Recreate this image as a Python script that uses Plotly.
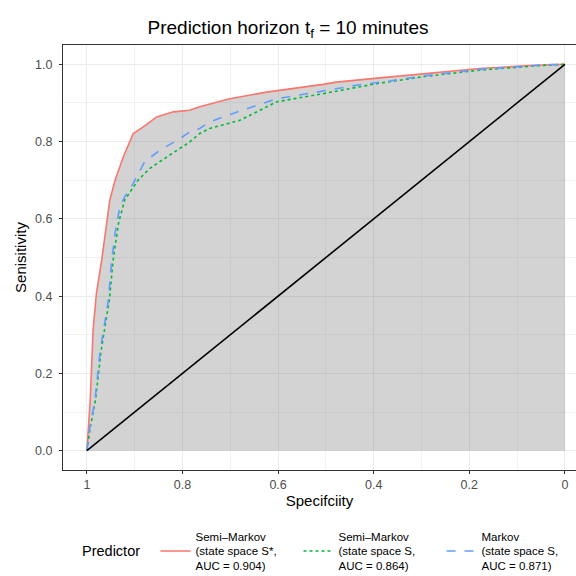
import plotly.graph_objects as go

# ---- data ----
spec_semi_star = [1.0, 0.993, 0.987, 0.980, 0.969, 0.966, 0.962, 0.952, 0.941, 0.924, 0.903, 0.882,
                  0.854, 0.819, 0.785, 0.764, 0.701, 0.624, 0.506, 0.478, 0.387, 0.296, 0.178, 0.073, 0.0]
sens_semi_star = [0.0, 0.132, 0.313, 0.408, 0.494, 0.519, 0.554, 0.649, 0.700, 0.760, 0.821, 0.838,
                  0.864, 0.877, 0.881, 0.890, 0.911, 0.928, 0.948, 0.954, 0.965, 0.976, 0.989, 0.997, 1.0]

spec_semi = [1.0, 0.993, 0.982, 0.970, 0.953, 0.945, 0.934, 0.921, 0.893, 0.868, 0.833, 0.785,
             0.764, 0.743, 0.680, 0.603, 0.506, 0.394, 0.296, 0.178, 0.038, 0.0]
sens_semi = [0.0, 0.06, 0.132, 0.261, 0.39, 0.494, 0.588, 0.649, 0.700, 0.731, 0.760, 0.799,
             0.821, 0.834, 0.855, 0.903, 0.924, 0.950, 0.968, 0.985, 0.998, 1.0]

spec_markov = [1.0, 0.994, 0.983, 0.972, 0.955, 0.948, 0.941, 0.931, 0.921, 0.903, 0.879, 0.847,
               0.805, 0.785, 0.764, 0.743, 0.694, 0.603, 0.519, 0.436, 0.366, 0.296, 0.178, 0.038, 0.0]
sens_markov = [0.0, 0.06, 0.132, 0.261, 0.39, 0.494, 0.563, 0.631, 0.657, 0.692, 0.748, 0.778,
               0.808, 0.825, 0.834, 0.851, 0.873, 0.911, 0.928, 0.946, 0.957, 0.970, 0.987, 0.999, 1.0]

diag_x = [1.0, 0.0]
diag_y = [0.0, 1.0]

x_tickvals = [1.0, 0.8, 0.6, 0.4, 0.2, 0.0]
x_ticktext = ["1", "0.8", "0.6", "0.4", "0.2", "0"]
y_tickvals = [0.0, 0.2, 0.4, 0.6, 0.8, 1.0]

legend_title = "Predictor"
names = [
    "Semi–Markov<br>(state space S*,<br>AUC = 0.904)",
    "Semi–Markov<br>(state space S,<br>AUC = 0.864)",
    "Markov<br>(state space S,<br>AUC = 0.871)",
]
colors = ["#F8766D", "#00BA38", "#619CFF"]
dashes = ["solid", "dot", "dash"]

FONT = "Liberation Sans, Arial, sans-serif"

fig = go.Figure()

# shaded area under the best curve
fig.add_trace(go.Scatter(x=spec_semi_star, y=sens_semi_star, mode="lines",
                         line=dict(width=0), fill="tozeroy",
                         fillcolor="rgba(128,128,128,0.35)",
                         showlegend=False, hoverinfo="skip"))

for xs, ys, nm, c, d in zip([spec_semi_star, spec_semi, spec_markov],
                            [sens_semi_star, sens_semi, sens_markov],
                            names, colors, dashes):
    fig.add_trace(go.Scatter(x=xs, y=ys, mode="lines", name=nm,
                             line=dict(color=c, width=1.6, dash=d)))

fig.add_trace(go.Scatter(x=diag_x, y=diag_y, mode="lines",
                         line=dict(color="black", width=1.6), showlegend=False))

fig.update_layout(
    width=576, height=576,
    margin=dict(l=63, r=0, t=45, b=106),
    paper_bgcolor="white", plot_bgcolor="white",
    font=dict(family=FONT, color="black"),
    title=dict(text="Prediction horizon t<sub>f</sub> = 10 minutes",
               x=0.5, xanchor="center", y=0.953, yanchor="middle",
               font=dict(size=19, family=FONT, color="black")),
    legend=dict(orientation="h", xref="container", yref="container",
                x=0.27, xanchor="left", y=0.0937, yanchor="top",
                font=dict(size=11.5, color="black"),
                entrywidth=98, entrywidthmode="pixels",
                tracegroupgap=0, itemwidth=30,
                bgcolor="rgba(0,0,0,0)", valign="middle"),
    showlegend=True,
    annotations=[dict(text=legend_title, xref="paper", yref="paper",
                      x=(80 - 63) / 513, xanchor="left",
                      y=(470 - 551) / 425.4, yanchor="middle",
                      showarrow=False, font=dict(size=14.5, color="black"))],
)

fig.update_xaxes(range=[1.05, -0.0232], tickvals=x_tickvals, ticktext=x_ticktext,
                 showgrid=True, gridcolor="#EBEBEB", gridwidth=1.1,
                 minor=dict(tickvals=[0.9, 0.7, 0.5, 0.3, 0.1], showgrid=True,
                            gridcolor="#F2F2F2", gridwidth=0.6),
                 showline=True, linecolor="#333333", linewidth=1.1, mirror=True,
                 ticks="outside", ticklen=3, tickcolor="#333333",
                 tickfont=dict(size=12.5, color="#4D4D4D"),
                 title=dict(text="Specifciity", font=dict(size=15, color="black"), standoff=0),
                 zeroline=False)

fig.update_yaxes(range=[-0.05, 1.05], tickvals=y_tickvals, tickformat=".1f",
                 showgrid=True, gridcolor="#EBEBEB", gridwidth=1.1,
                 minor=dict(tickvals=[0.1, 0.3, 0.5, 0.7, 0.9], showgrid=True,
                            gridcolor="#F2F2F2", gridwidth=0.6),
                 showline=True, linecolor="#333333", linewidth=1.1, mirror=False,
                 ticks="outside", ticklen=3, tickcolor="#333333",
                 ticklabelstandoff=4,
                 tickfont=dict(size=12.5, color="#4D4D4D"),
                 title=dict(text="Senisitivity", font=dict(size=15, color="black"), standoff=4),
                 zeroline=False)

fig.write_html("out.html")
